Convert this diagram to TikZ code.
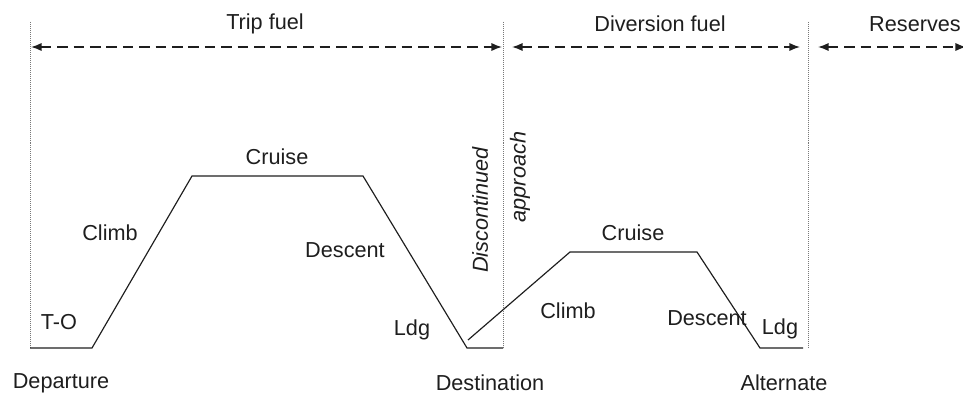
\documentclass[tikz,border=0pt]{standalone}
\usepackage{fontspec}
\setmainfont{Liberation Sans}
\usepackage{tikz}
\usetikzlibrary{arrows.meta, positioning, calc}
\definecolor{inkblack}{RGB}{30,30,30}

\begin{document}
\begin{tikzpicture}[
  x=0.03cm, y=-0.03cm,
  font=\fontsize{18.5}{22}\selectfont,
  lbl/.style={inner sep=0pt, text=inkblack},
  rotlbl/.style={inner sep=0pt, text=inkblack, rotate=90, font=\fontsize{18.5}{22}\selectfont\itshape},
  span/.style={{Latex[length=9pt,width=7pt]}-{Latex[length=9pt,width=7pt]}, dash pattern=on 9pt off 5pt, line width=1.3pt, inkblack},
  bound/.style={densely dotted, line width=0.7pt, inkblack!60},
  prof/.style={line width=1pt, inkblack}
]
  \useasboundingbox (0,0) rectangle (963,396);
  % Boundaries
  \coordinate (depT) at (30,22);   \coordinate (depB) at (30,348);
  \coordinate (desT) at (503,22);  \coordinate (desB) at (503,348);
  \coordinate (altT) at (808,22);  \coordinate (altB) at (808,348);
  \draw[bound] (depT) -- (depB);
  \draw[bound] (desT) -- (desB);
  \draw[bound] (altT) -- (altB);
  % Fuel spans
  \coordinate (trip1) at (31,47);  \coordinate (trip2) at (502,47);
  \coordinate (div1) at (512,47);  \coordinate (div2) at (800,47);
  \coordinate (res1) at (818,47);  \coordinate (res2) at (966,47);
  \draw[span] (trip1) -- (trip2);
  \draw[span] (div1) -- (div2);
  \draw[span] (res1) -- (res2);
  \node[lbl] (tripfuel) at (265,24) {Trip fuel};
  \node[lbl] (divfuel) at (660,24) {Diversion fuel};
  \node[lbl] (reserves) at (915,24) {Reserves};
  % Trip profile
  \coordinate (p0) at (30,348);
  \coordinate (p1) at (92,348);
  \coordinate (p2) at (192,176);
  \coordinate (p3) at (363,176);
  \coordinate (p4) at (467,348);
  \coordinate (p5) at (503,348);
  \draw[prof] (p0) -- (p1) -- (p2) -- (p3) -- (p4) -- (p5);
  % Diversion profile
  \coordinate (q0) at (468,340);
  \coordinate (q1) at (570,252);
  \coordinate (q2) at (697,252);
  \coordinate (q3) at (760,348);
  \coordinate (q4) at (803,348);
  \draw[prof] (q0) -- (q1) -- (q2) -- (q3) -- (q4);
  % Phase labels
  \node[lbl] (to) at (59,322) {T-O};
  \node[lbl] (climb1) at (110,233) {Climb};
  \node[lbl] (cruise1) at (277,157) {Cruise};
  \node[lbl] (descent1) at (345,250) {Descent};
  \node[lbl] (ldg1) at (412,330) {Ldg};
  \node[rotlbl] (discont) at (480,210) {Discontinued};
  \node[rotlbl] (approach) at (520,177) {approach};
  \node[lbl] (climb2) at (568,311) {Climb};
  \node[lbl] (cruise2) at (633,233) {Cruise};
  \node[lbl] (descent2) at (707,318) {Descent};
  \node[lbl] (ldg2) at (780,329) {Ldg};
  % Airports
  \node[lbl] (departure) at (61,383) {Departure};
  \node[lbl] (destination) at (490,383) {Destination};
  \node[lbl] (alternate) at (784,383) {Alternate};
\end{tikzpicture}
\end{document}
